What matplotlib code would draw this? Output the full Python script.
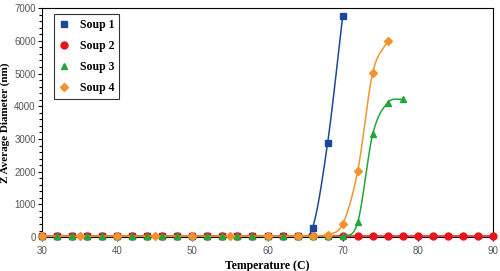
import numpy as np
import matplotlib.pyplot as plt
from matplotlib.ticker import MultipleLocator

# temperatures (C) and Z average diameter (nm)
t1 = [30, 32, 34, 36, 38, 40, 42, 44, 46, 48, 50, 52, 54, 56, 58, 60, 62, 64, 66, 68, 70]
d1 = [30, 30, 30, 30, 30, 30, 30, 30, 30, 30, 30, 30, 30, 30, 30, 30, 30, 40, 290, 2880, 6750]

t2 = [30, 32, 34, 36, 38, 40, 42, 44, 46, 48, 50, 52, 54, 56, 58, 60,
      62, 64, 66, 68, 70, 72, 74, 76, 78, 80, 82, 84, 86, 88, 90]
d2 = [20] * len(t2)

t3 = [30, 32, 34, 36, 38, 40, 42, 44, 46, 48, 50, 52, 54, 56, 58, 60, 62, 64, 66, 68, 70, 72, 74, 76, 78]
d3 = [20, 20, 20, 20, 20, 20, 20, 20, 20, 20, 20, 20, 20, 20, 20, 20, 20, 20, 20, 20, 30, 450, 3150, 4110, 4220]

t4 = [30, 35, 40, 45, 50, 55, 60, 64, 66, 68, 70, 72, 74, 76]
d4 = [30, 30, 30, 30, 30, 30, 30, 30, 40, 80, 400, 2020, 5030, 6000]

names = ["Soup 1", "Soup 2", "Soup 3", "Soup 4"]
colors = ["#1a4a96", "#e8141c", "#22a63a", "#f29330"]
markers = ["s", "o", "^", "D"]
sizes = [4.6, 5.0, 5.0, 3.8]


def smooth(x, y, n=20):
    # Catmull-Rom curve through the points, like a spreadsheet smoothed line
    x = np.asarray(x, float)
    y = np.asarray(y, float)
    px = np.concatenate([[2 * x[0] - x[1]], x, [2 * x[-1] - x[-2]]])
    py = np.concatenate([[2 * y[0] - y[1]], y, [2 * y[-1] - y[-2]]])
    xs, ys = [], []
    s = np.linspace(0, 1, n)
    for i in range(1, len(px) - 2):
        for p, out in ((px, xs), (py, ys)):
            p0, p1, p2, p3 = p[i - 1], p[i], p[i + 1], p[i + 2]
            out.extend(0.5 * (2 * p1 + (-p0 + p2) * s
                              + (2 * p0 - 5 * p1 + 4 * p2 - p3) * s ** 2
                              + (-p0 + 3 * p1 - 3 * p2 + p3) * s ** 3))
    return np.array(xs), np.array(ys)


fig, ax = plt.subplots(figsize=(5, 2.71), dpi=100)
fig.subplots_adjust(left=0.084, right=0.986, top=0.97, bottom=0.125)

series = [(t1, d1), (t2, d2), (t3, d3), (t4, d4)]
order = [1, 0, 3, 2]
for i in order:
    t, d = series[i]
    sx, sy = smooth(t, d)
    ax.plot(sx, sy, color=colors[i], lw=1.1, zorder=2 + i)
    ax.plot(t, d, ls="none", marker=markers[i], color=colors[i],
            ms=sizes[i], clip_on=False, zorder=3 + i)

# legend handles (markers only)
handles = [plt.Line2D([], [], ls="none", marker=markers[i], color=colors[i],
                      ms=sizes[i]) for i in range(4)]
leg = ax.legend(handles, names, loc="upper left", bbox_to_anchor=(0.027, 0.974),
                borderaxespad=0, frameon=True, fancybox=False, edgecolor="black",
                handlelength=0.8, borderpad=0.45, labelspacing=0.75, handletextpad=0.9,
                prop={"family": "Liberation Serif", "weight": "bold", "size": 8.5})
leg.get_frame().set_linewidth(0.8)

ax.set_xlim(30, 90)
ax.set_ylim(0, 7000)
ax.xaxis.set_major_locator(MultipleLocator(10))
ax.yaxis.set_major_locator(MultipleLocator(1000))
ax.yaxis.set_minor_locator(MultipleLocator(200))
ax.tick_params(which="both", direction="out", top=False, right=False,
               labelsize=7, labelcolor="#555555", length=3, width=0.8)
ax.tick_params(which="minor", length=2)
ax.tick_params(axis="y", pad=1.5)
for lab in ax.get_xticklabels() + ax.get_yticklabels():
    lab.set_family("Liberation Sans")
for sp in ax.spines.values():
    sp.set_linewidth(0.8)

ax.set_xlabel("Temperature (C)", family="Liberation Serif", fontweight="bold",
              fontsize=8.5, labelpad=3)
ax.set_ylabel("Z Average Diameter (nm)", family="Liberation Serif", fontweight="bold",
              fontsize=8)
ax.yaxis.set_label_coords(-0.07, 0.5)

fig.savefig("out.png", dpi=100)
